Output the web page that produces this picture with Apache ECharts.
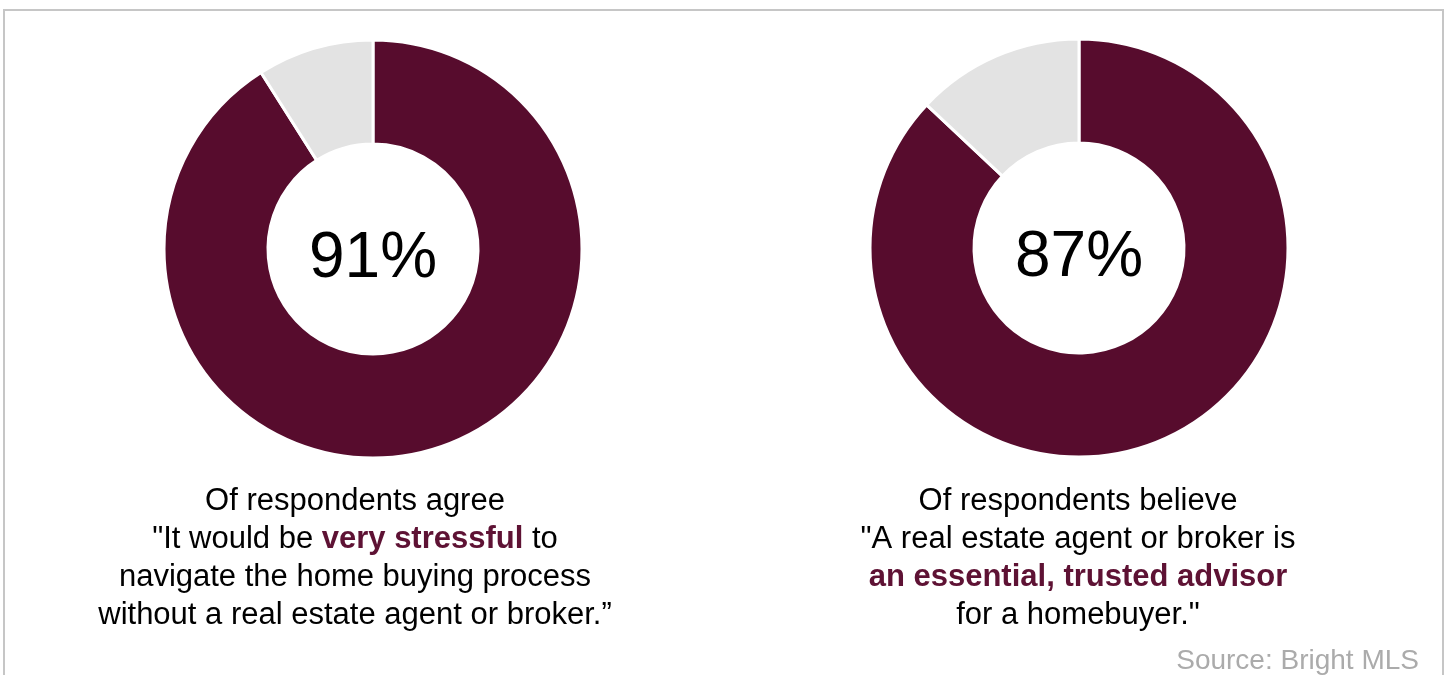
<!DOCTYPE html>
<html>
<head>
<meta charset="utf-8">
<script src="https://cdn.jsdelivr.net/npm/echarts@6/dist/echarts.min.js"></script>
<style>
html,body{margin:0;padding:0;background:#fff;}
#chart{width:1449px;height:675px;}
</style>
</head>
<body>
<div id="chart"></div>
<script>
// Data
const categories = ['Agree / Believe', 'Other'];
const stressfulValues = [91, 9];
const advisorValues = [87, 13];
const captionLeft = 'Of respondents agree\n"It would be {b|very stressful} to\nnavigate the home buying process\nwithout a real estate agent or broker.”';
const captionRight = 'Of respondents believe\n"A real estate agent or broker is\n{b|an essential, trusted advisor}\nfor a homebuyer."';
const sourceText = 'Source: Bright MLS';

const MAROON = '#570C2D';
const GREY = '#E3E3E3';
const FONT = 'Arial, "Liberation Sans", sans-serif';

function makeData(vals) {
  return vals.map((v, i) => ({
    name: categories[i],
    value: v,
    itemStyle: { color: i === 0 ? MAROON : GREY },
    label: i === 0 ? {
      show: true, position: 'center', formatter: '{c}%',
      fontSize: 64, color: '#000', fontFamily: FONT, offset: [0, 10]
    } : { show: false }
  }));
}

function pieSeries(center, vals) {
  return {
    type: 'pie',
    center: center,
    radius: [105, 209],
    startAngle: 90,
    clockwise: true,
    silent: true,
    animation: false,
    avoidLabelOverlap: false,
    labelLine: { show: false },
    itemStyle: { borderColor: '#fff', borderWidth: 3 },
    emphasis: { disabled: true },
    data: makeData(vals)
  };
}

const captionStyle = {
  fontSize: 31, color: '#000', fontFamily: FONT, lineHeight: 38, fontWeight: 'normal',
  rich: { b: { fontSize: 31, fontWeight: 'bold', color: '#5E1234', fontFamily: FONT, lineHeight: 38 } }
};

const chart = echarts.init(document.getElementById('chart'));
chart.setOption({
  backgroundColor: '#fff',
  animation: false,
  title: [
    { text: captionLeft, left: 350, top: 477, textAlign: 'center', textStyle: captionStyle },
    { text: captionRight, left: 1073, top: 477, textAlign: 'center', textStyle: captionStyle },
    { text: sourceText, right: 25, top: 642, textStyle: { fontSize: 28, color: '#ABABAB', fontFamily: FONT, fontWeight: 'normal' } }
  ],
  graphic: [
    {
      type: 'polyline', silent: true,
      shape: { points: [[4, 690], [4, 10], [1443, 10], [1443, 690]] },
      style: { stroke: '#C6C6C6', lineWidth: 2, fill: null }
    }
  ],
  series: [
    pieSeries([373, 249], stressfulValues),
    pieSeries([1079, 248], advisorValues)
  ]
});
</script>
</body>
</html>
